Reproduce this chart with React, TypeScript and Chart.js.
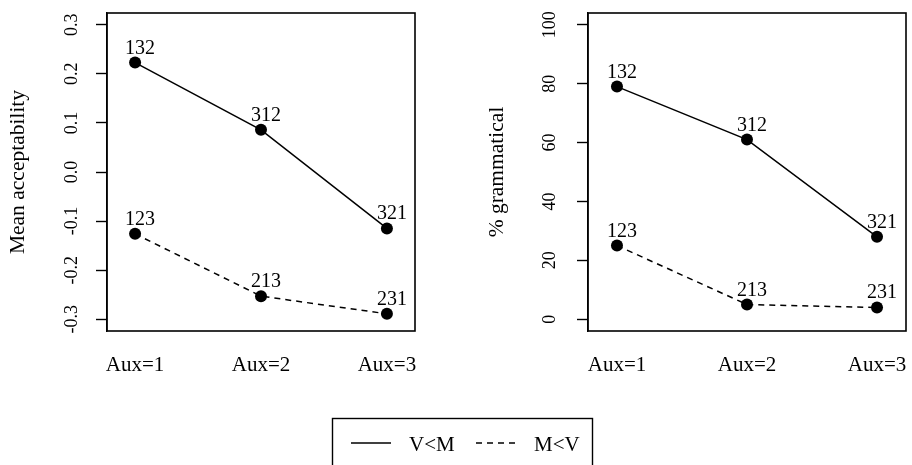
import React, { useEffect, useRef } from 'react';
import { Chart, registerables } from 'chart.js';

Chart.register(...registerables);

// ---- data ----
const categories = ['Aux=1', 'Aux=2', 'Aux=3'];
const catPositions = [1, 2, 3];
const seriesNames = ['V<M', 'M<V'];
const acceptVM = [0.223, 0.086, -0.115];
const acceptMV = [-0.126, -0.253, -0.289];
const gramVM = [79, 61, 28];
const gramMV = [25, 5, 4];
const labelsVM = ['132', '312', '321'];
const labelsMV = ['123', '213', '231'];
const acceptTicks = [-0.3, -0.2, -0.1, 0, 0.1, 0.2, 0.3];
const gramTicks = [0, 20, 40, 60, 80, 100];
const acceptRange = [-0.324, 0.324];
const gramRange = [-4, 104];
const xRange = [0.777, 3.223];

const FONT = "'Liberation Serif', 'Times New Roman', serif";
const W = 912;
const H = 465;

const boxPlugin = {
  id: 'boxPlugin',
  afterDraw(chart: any) {
    const { ctx, chartArea: a } = chart;
    ctx.save();
    ctx.strokeStyle = '#000';
    ctx.lineWidth = 1.6;
    ctx.strokeRect(a.left, a.top, a.right - a.left, a.bottom - a.top);
    ctx.restore();
  },
};

const pointLabelPlugin = {
  id: 'pointLabelPlugin',
  afterDatasetsDraw(chart: any) {
    const { ctx } = chart;
    ctx.save();
    ctx.fillStyle = '#000';
    ctx.font = `20px ${FONT}`;
    ctx.textAlign = 'center';
    ctx.textBaseline = 'alphabetic';
    chart.data.datasets.forEach((ds: any, di: number) => {
      const meta = chart.getDatasetMeta(di);
      meta.data.forEach((pt: any, i: number) => {
        ctx.fillText(ds.pointLabels[i], pt.x + 5, pt.y - 9);
      });
    });
    ctx.restore();
  },
};

const legendPlugin = {
  id: 'legendPlugin',
  afterDraw(chart: any) {
    const { ctx } = chart;
    ctx.save();
    ctx.strokeStyle = '#000';
    ctx.lineWidth = 1.4;
    ctx.strokeRect(332.5, 418.5, 260, 80);
    // solid sample
    ctx.beginPath();
    ctx.moveTo(351, 443);
    ctx.lineTo(391, 443);
    ctx.stroke();
    // dashed sample
    ctx.setLineDash([6, 5]);
    ctx.beginPath();
    ctx.moveTo(476, 443);
    ctx.lineTo(516, 443);
    ctx.stroke();
    ctx.setLineDash([]);
    ctx.fillStyle = '#000';
    ctx.font = `21px ${FONT}`;
    ctx.textAlign = 'left';
    ctx.textBaseline = 'alphabetic';
    ctx.fillText(seriesNames[0], 409, 451);
    ctx.fillText(seriesNames[1], 534, 451);
    ctx.restore();
  },
};

const zeroPad = (s: any) => {
  s.paddingTop = 0;
  s.paddingBottom = 0;
  s.paddingLeft = 0;
  s.paddingRight = 0;
};

function makeConfig(o: {
  yTitle: string;
  vm: number[];
  mv: number[];
  yTicks: number[];
  yRange: number[];
  fmt: (v: number) => string;
  padLeft: number;
  padRight: number;
  yWidth: number;
  yTickPad: number;
  legend: boolean;
}): any {
  const mk = (vals: number[]) => catPositions.map((x, i) => ({ x, y: vals[i] }));
  return {
    type: 'line',
    data: {
      datasets: [
        {
          label: seriesNames[0],
          data: mk(o.vm),
          pointLabels: labelsVM,
          borderColor: '#000',
          backgroundColor: '#000',
          borderWidth: 1.5,
          pointRadius: 6,
          pointBorderWidth: 0,
          pointBackgroundColor: '#000',
          tension: 0,
        },
        {
          label: seriesNames[1],
          data: mk(o.mv),
          pointLabels: labelsMV,
          borderColor: '#000',
          backgroundColor: '#000',
          borderWidth: 1.5,
          borderDash: [6, 5],
          pointRadius: 6,
          pointBorderWidth: 0,
          pointBackgroundColor: '#000',
          tension: 0,
        },
      ],
    },
    options: {
      responsive: false,
      animation: false,
      devicePixelRatio: 1,
      layout: { padding: { left: o.padLeft, right: o.padRight, top: 13, bottom: 0 } },
      plugins: { legend: { display: false }, tooltip: { enabled: false } },
      events: [],
      scales: {
        x: {
          type: 'linear',
          min: xRange[0],
          max: xRange[1],
          afterBuildTicks: (s: any) => {
            s.ticks = catPositions.map((v) => ({ value: v }));
          },
          afterFit: (s: any) => {
            s.height = 134;
            zeroPad(s);
          },
          grid: { display: false, drawTicks: false },
          border: { display: false },
          ticks: {
            autoSkip: false,
            maxRotation: 0,
            minRotation: 0,
            padding: 22,
            color: '#000',
            font: { family: FONT, size: 21 },
            callback: (v: number) => categories[catPositions.indexOf(v)] ?? '',
          },
        },
        y: {
          type: 'linear',
          min: o.yRange[0],
          max: o.yRange[1],
          afterBuildTicks: (s: any) => {
            s.ticks = o.yTicks.map((v) => ({ value: v }));
          },
          afterFit: (s: any) => {
            s.width = o.yWidth;
            zeroPad(s);
          },
          grid: {
            drawOnChartArea: false,
            drawTicks: true,
            tickLength: 11,
            tickColor: '#000',
            tickWidth: 1.4,
          },
          border: { display: true, color: '#000', width: 1.4 },
          ticks: {
            autoSkip: false,
            minRotation: 90,
            maxRotation: 90,
            crossAlign: 'center',
            padding: o.yTickPad,
            color: '#000',
            font: { family: FONT, size: 18 },
            callback: (v: number) => o.fmt(v),
          },
          title: {
            display: true,
            text: o.yTitle,
            color: '#000',
            font: { family: FONT, size: 21.5 },
            padding: { top: 5, bottom: 0 },
          },
        },
      },
    },
    plugins: o.legend ? [boxPlugin, pointLabelPlugin, legendPlugin] : [boxPlugin, pointLabelPlugin],
  };
}

export default function App() {
  const leftRef = useRef<HTMLCanvasElement | null>(null);
  const rightRef = useRef<HTMLCanvasElement | null>(null);

  useEffect(() => {
    Chart.defaults.font.family = FONT;
    const left = new Chart(
      leftRef.current as HTMLCanvasElement,
      makeConfig({
        yTitle: 'Mean acceptability',
        vm: acceptVM,
        mv: acceptMV,
        yTicks: acceptTicks,
        yRange: acceptRange,
        fmt: (v) => v.toFixed(1),
        padLeft: 0,
        padRight: W - 415,
        yWidth: 107,
        yTickPad: 9,
        legend: false,
      })
    );
    const right = new Chart(
      rightRef.current as HTMLCanvasElement,
      makeConfig({
        yTitle: '% grammatical',
        vm: gramVM,
        mv: gramMV,
        yTicks: gramTicks,
        yRange: gramRange,
        fmt: (v) => String(Math.round(v)),
        padLeft: 479,
        padRight: W - 910,
        yWidth: 109,
        yTickPad: 13,
        legend: true,
      })
    );
    return () => {
      left.destroy();
      right.destroy();
    };
  }, []);

  const cs: React.CSSProperties = { position: 'absolute', left: 0, top: 0, width: W, height: H };
  return (
    <div style={{ position: 'fixed', left: 0, top: 0, width: W, height: H, background: '#fff' }}>
      <canvas ref={leftRef} width={W} height={H} style={cs} />
      <canvas ref={rightRef} width={W} height={H} style={cs} />
    </div>
  );
}
